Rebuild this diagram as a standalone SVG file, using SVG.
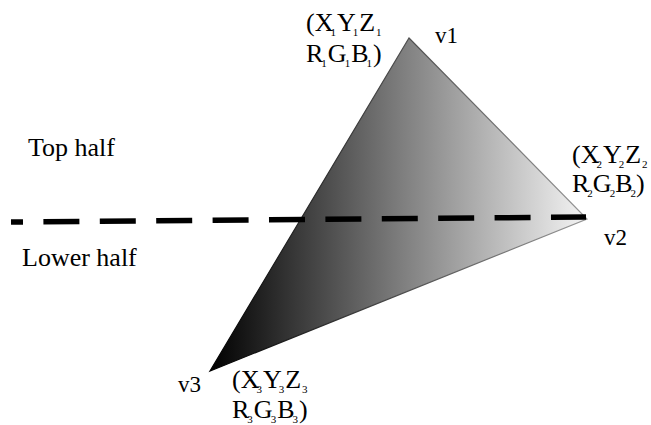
<svg xmlns="http://www.w3.org/2000/svg" width="651" height="425" viewBox="0 0 651 425">
<defs>
<linearGradient id="shade" gradientUnits="userSpaceOnUse" x1="210" y1="0" x2="590" y2="0">
<stop offset="0" stop-color="#000"/>
<stop offset="0.5" stop-color="#7d7d7d"/>
<stop offset="1" stop-color="#f6f6f6"/>
</linearGradient>
<linearGradient id="edge" gradientUnits="userSpaceOnUse" x1="210" y1="0" x2="590" y2="0">
<stop offset="0" stop-color="#000"/>
<stop offset="1" stop-color="#999"/>
</linearGradient>
</defs>
<rect width="651" height="425" fill="#fff"/>
<g id="triangle">
<polygon points="409,38 587,219 210,371" fill="url(#shade)" stroke="url(#edge)" stroke-width="1.2"/>
</g>
<g id="connectors">
<line id="divider" x1="11" y1="222" x2="586" y2="217" stroke="#000" stroke-width="5.5" stroke-dasharray="36 20.4" stroke-dashoffset="24"/>
</g>
<g id="top-half"><text x="28" y="156" font-size="26" font-family="Liberation Serif">Top half</text></g>
<g id="lower-half"><text x="22" y="266" font-size="26" font-family="Liberation Serif">Lower half</text></g>
<g id="v1">
<text x="435" y="43" font-size="23" font-family="Liberation Serif">v1</text>
<text x="306" y="31" font-size="26" font-family="Liberation Serif">(X<tspan font-size="11" dx="-3" dy="5">1</tspan><tspan dx="1" dy="-5">Y</tspan><tspan font-size="11" dx="-3" dy="5">1</tspan><tspan dx="1" dy="-5">Z</tspan><tspan font-size="11" dx="1" dy="5">1</tspan></text>
<text x="306" y="62" font-size="26" font-family="Liberation Serif">R<tspan font-size="11" dx="-2" dy="5">1</tspan><tspan dx="1" dy="-5">G</tspan><tspan font-size="11" dx="-2" dy="5">1</tspan><tspan dx="1" dy="-5">B</tspan><tspan font-size="11" dx="-2" dy="5">1</tspan><tspan dx="1" dy="-5">)</tspan></text>
</g>
<g id="v2">
<text x="604" y="245" font-size="23" font-family="Liberation Serif">v2</text>
<text x="572" y="163" font-size="26" font-family="Liberation Serif">(X<tspan font-size="11" dx="-3" dy="5">2</tspan><tspan dx="1" dy="-5">Y</tspan><tspan font-size="11" dx="-3" dy="5">2</tspan><tspan dx="1" dy="-5">Z</tspan><tspan font-size="11" dx="1" dy="5">2</tspan></text>
<text x="572" y="192" font-size="26" font-family="Liberation Serif">R<tspan font-size="11" dx="-2" dy="5">2</tspan><tspan dx="0" dy="-5">G</tspan><tspan font-size="11" dx="-2" dy="5">2</tspan><tspan dx="0" dy="-5">B</tspan><tspan font-size="11" dx="-2" dy="5">2</tspan><tspan dx="0" dy="-5">)</tspan></text>
</g>
<g id="v3">
<text x="178" y="392" font-size="23" font-family="Liberation Serif">v3</text>
<text x="232" y="388" font-size="26" font-family="Liberation Serif">(X<tspan font-size="11" dx="-3" dy="5">3</tspan><tspan dx="1" dy="-5">Y</tspan><tspan font-size="11" dx="-3" dy="5">3</tspan><tspan dx="1" dy="-5">Z</tspan><tspan font-size="11" dx="1" dy="5">3</tspan></text>
<text x="232" y="418" font-size="26" font-family="Liberation Serif">R<tspan font-size="11" dx="-2" dy="5">3</tspan><tspan dx="1" dy="-5">G</tspan><tspan font-size="11" dx="-2" dy="5">3</tspan><tspan dx="1" dy="-5">B</tspan><tspan font-size="11" dx="-2" dy="5">3</tspan><tspan dx="1" dy="-5">)</tspan></text>
</g>
</svg>
